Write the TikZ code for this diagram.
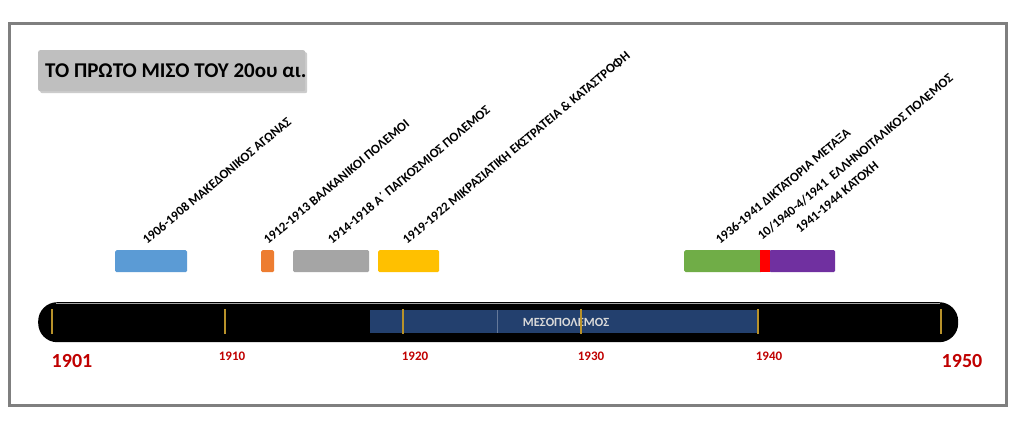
\documentclass[tikz,border=0pt]{standalone}
\usepackage{fontspec}
\setmainfont{Carlito}
\usetikzlibrary{shadows}
\definecolor{frame}{HTML}{7F7F7F}
\definecolor{cblue}{HTML}{5B9BD5}
\definecolor{corange}{HTML}{ED7D31}
\definecolor{cgray}{HTML}{A5A5A5}
\definecolor{cyellow}{HTML}{FFC000}
\definecolor{cgreen}{HTML}{70AD47}
\definecolor{cred}{HTML}{FF0000}
\definecolor{cpurple}{HTML}{7030A0}
\definecolor{navy}{HTML}{23406E}
\definecolor{yearred}{HTML}{C00000}
\definecolor{tickgold}{HTML}{B8922A}
\definecolor{titlegray}{HTML}{BFBFBF}
\tikzset{
  bar/.style={draw=none, rounded corners=1.5pt, minimum height=22pt, inner sep=0pt, anchor=north west},
  evlabel/.style={font=\bfseries\fontsize{13}{13}\selectfont, rotate=40, anchor=base west, inner sep=0pt},
  yearsmall/.style={font=\bfseries\fontsize{13}{13}\selectfont, text=yearred, inner sep=0pt},
  yearbig/.style={font=\bfseries\fontsize{20}{20}\selectfont, text=yearred, inner sep=0pt},
  tick/.style={draw=tickgold, line width=1.3pt},
}
\begin{document}
\begin{tikzpicture}[x=1pt,y=-1pt]
\useasboundingbox (0,0) rectangle (1024,426);
\fill[white] (0,0) rectangle (1024,426);
% frame
\draw[frame, line width=3pt] (9,23) rectangle (1006,405);
% title
\node[fill=titlegray, rounded corners=2pt, drop shadow={shadow xshift=2pt,shadow yshift=-2pt,opacity=0.4},
      minimum width=267pt, minimum height=41pt, anchor=north west, inner sep=0pt] (titlebox) at (38,50) {};
\node[font=\bfseries\fontsize{21}{21}\selectfont, anchor=west, inner sep=0pt] (title) at (45,70.5) {ΤΟ ΠΡΩΤΟ ΜΙΣΟ ΤΟΥ 20ου αι.};
% timeline bar
\node[fill=black, rounded corners=19pt, minimum width=920pt, minimum height=40pt, anchor=north west, inner sep=0pt] (timeline) at (38,302) {};
\draw[gray!70, line width=1pt] (56,303.5) -- (940,303.5);
\node[fill=navy, minimum width=387pt, minimum height=23pt, anchor=north west, inner sep=0pt] (meso) at (370,310) {};
\draw[navy!70!white, line width=0.6pt] (497,310) -- (497,333);
\node[font=\bfseries\fontsize{12.5}{12.5}\selectfont, text=gray!30, inner sep=0pt] (mesolabel) at (566,322) {ΜΕΣΟΠΟΛΕΜΟΣ};
% ticks
\foreach \x/\n in {52/t1901,225/t1910,403/t1920,581/t1930,758/t1940,941/t1950}{
  \coordinate (\n a) at (\x,309);
  \coordinate (\n b) at (\x,334);
  \draw[tick] (\n a) -- (\n b);
}
% year labels
\node[yearbig] (y1901) at (72,361) {1901};
\node[yearsmall] (y1910) at (232,356) {1910};
\node[yearsmall] (y1920) at (415,356) {1920};
\node[yearsmall] (y1930) at (591,356) {1930};
\node[yearsmall] (y1940) at (769,356) {1940};
\node[yearbig] (y1950) at (962,361) {1950};
% event bars
\node[bar, fill=cblue, minimum width=72pt] (b1) at (115,250) {};
\node[bar, fill=corange, minimum width=13pt] (b2) at (261,250) {};
\node[bar, fill=cgray, minimum width=76pt] (b3) at (293,250) {};
\node[bar, fill=cyellow, minimum width=61pt] (b4) at (378,250) {};
\node[bar, fill=cgreen, minimum width=78pt] (b5) at (684,250) {};
\node[bar, fill=cpurple, minimum width=66pt] (b7) at (769,250) {};
\node[bar, fill=cred, minimum width=10pt, rounded corners=0pt] (b6) at (760,250) {};
% event labels
\node[evlabel] (l1) at (147,245) {1906-1908 ΜΑΚΕΔΟΝΙΚΟΣ ΑΓΩΝΑΣ};
\node[evlabel] (l2) at (268,245) {1912-1913 ΒΑΛΚΑΝΙΚΟΙ ΠΟΛΕΜΟΙ};
\node[evlabel] (l3) at (332,245) {1914-1918 Α΄ ΠΑΓΚΟΣΜΙΟΣ ΠΟΛΕΜΟΣ};
\node[evlabel] (l4) at (407,245) {1919-1922 ΜΙΚΡΑΣΙΑΤΙΚΗ ΕΚΣΤΡΑΤΕΙΑ \& ΚΑΤΑΣΤΡΟΦΗ};
\node[evlabel] (l5) at (720,245) {1936-1941 ΔΙΚΤΑΤΟΡΙΑ ΜΕΤΑΞΑ};
\node[evlabel] (l6) at (762,241) {10/1940-4/1941 \ ΕΛΛΗΝΟΙΤΑΛΙΚΟΣ ΠΟΛΕΜΟΣ};
\node[evlabel] (l7) at (800,234) {1941-1944 ΚΑΤΟΧΗ};
\end{tikzpicture}
\end{document}
